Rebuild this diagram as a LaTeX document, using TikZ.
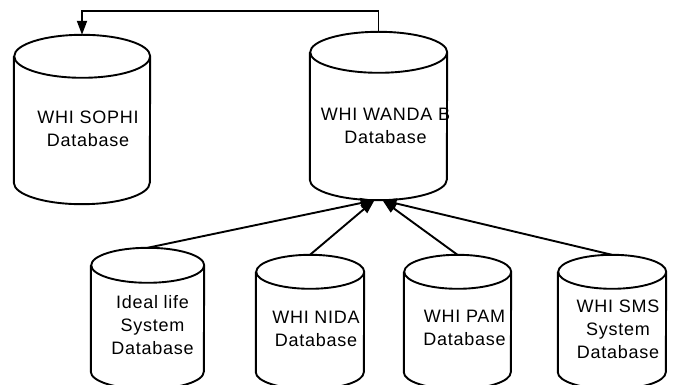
\documentclass[tikz,border=0pt]{standalone}
\usepackage{fontspec}
\setmainfont{Liberation Sans}[LetterSpace=4]
\usetikzlibrary{arrows.meta}
\begin{document}
\begin{tikzpicture}[x=1pt,y=-1pt,
    db/.style={inner sep=0pt},
    dbline/.style={line width=1.9pt},
    dbtext/.style={align=center,font=\fontsize{18}{23}\selectfont},
    conn/.style={line width=1.9pt,-{Triangle[length=14pt,width=10pt]}}]
  \useasboundingbox (0,0) rectangle (673,385);
  \node[db,minimum width=136pt,minimum height=169pt] (sophi) at (82,119.5) {};
  \node[db,minimum width=137pt,minimum height=168pt] (wanda) at (378.5,116) {};
  \node[db,minimum width=113pt,minimum height=141pt] (ideal) at (147.5,318.5) {};
  \node[db,minimum width=108pt,minimum height=134pt] (nida) at (310,322) {};
  \node[db,minimum width=107pt,minimum height=134pt] (pam) at (457.5,322) {};
  \node[db,minimum width=108pt,minimum height=134pt] (sms) at (612,322) {};
  % cylinder outlines round the nodes
  \foreach \n/\r/\e in {sophi/68/21.5,wanda/68.5/20.5,ideal/56.5/17.5,nida/54/17,pam/53.5/17,sms/54/17}
    \draw[dbline] ([yshift=-\e pt]\n.north west) -- ([yshift=\e pt]\n.south west)
      arc[start angle=180,end angle=360,x radius=\r pt,y radius=\e pt]
      -- ([yshift=-\e pt]\n.north east)
      arc[start angle=0,end angle=360,x radius=\r pt,y radius=\e pt];
  \node[dbtext] (sophi-t) at ([xshift=6pt,yshift=-9pt]sophi.center) {WHI SOPHI\\Database};
  \node[dbtext] (wanda-t) at ([xshift=7pt,yshift=-10pt]wanda.center) {WHI WANDA B\\Database};
  \node[dbtext] (ideal-t) at ([xshift=5pt,yshift=-7pt]ideal.center) {Ideal life\\System\\Database};
  \node[dbtext] (nida-t) at ([xshift=6pt,yshift=-7pt]nida.center) {WHI NIDA\\Database};
  \node[dbtext] (pam-t) at ([xshift=7pt,yshift=-6pt]pam.center) {WHI PAM\\Database};
  \node[dbtext] (sms-t) at ([xshift=6pt,yshift=-7pt]sms.center) {WHI SMS\\System\\Database};
  \draw[conn] (wanda.north) -- ++(0,-21) -| (sophi.north);
  \foreach \n/\s in {ideal/-4,nida/-4,pam/4,sms/4}
    \draw[conn] (\n.north) -- ([xshift=\s pt]wanda.south);
\end{tikzpicture}
\end{document}
